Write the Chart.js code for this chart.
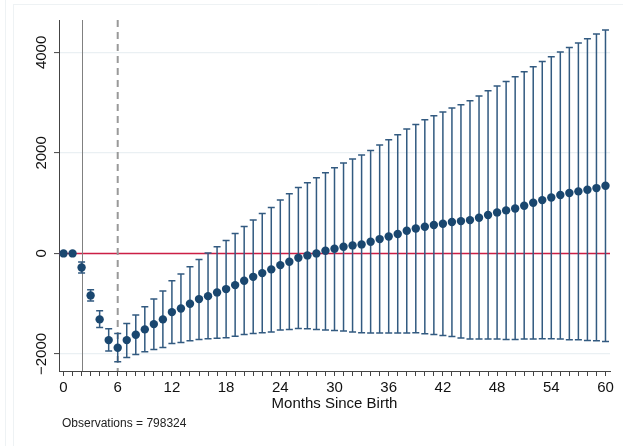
<!DOCTYPE html>
<html>
<head>
<meta charset="utf-8">
<script src="https://cdn.jsdelivr.net/npm/chart.js@4/dist/chart.umd.min.js"></script>
<style>
  html, body { margin: 0; padding: 0; background: #fff; }
</style>
</head>
<body>
<canvas id="c" width="623" height="446"></canvas>
<script>
// months since birth
const months = [0,1,2,3,4,5,6,7,8,9,10,11,12,13,14,15,16,17,18,19,20,
  21,22,23,24,25,26,27,28,29,30,31,32,33,34,35,36,37,38,39,40,
  41,42,43,44,45,46,47,48,49,50,51,52,53,54,55,56,57,58,59,60];
// point estimates
const est = [0,0,-280,-836,-1313,-1725,-1878,-1725,-1620,-1512,-1407,
  -1313,-1168,-1095,-1003,-909,-850,-776,-710,-631,-545,
  -466,-392,-318,-233,-167,-88,-40,0,53,93,
  133,159,179,232,285,338,385,451,497,531,
  564,590,624,643,663,710,763,816,856,895,
  949,1008,1061,1114,1161,1201,1234,1267,1300,1347];
// upper bound of CI
const hi = [0,0,-170,-724,-1142,-1500,-1592,-1393,-1228,-1063,-909,
  -750,-545,-412,-267,-119,6,131,259,398,537,
  663,796,915,1061,1186,1313,1405,1506,1605,1705,
  1798,1877,1957,2050,2156,2262,2361,2474,2567,2660,
  2739,2812,2892,2958,3038,3131,3237,3330,3423,3515,
  3615,3714,3821,3913,4006,4099,4185,4272,4365,4444];
// lower bound of CI
const lo = [0,0,-390,-949,-1473,-1944,-2157,-2070,-2010,-1958,-1910,
  -1871,-1791,-1771,-1739,-1711,-1699,-1686,-1680,-1646,-1612,
  -1592,-1580,-1566,-1526,-1512,-1493,-1499,-1512,-1526,-1532,
  -1545,-1565,-1579,-1585,-1585,-1585,-1585,-1585,-1579,-1599,
  -1612,-1632,-1652,-1685,-1705,-1705,-1705,-1705,-1711,-1711,
  -1705,-1705,-1698,-1698,-1705,-1718,-1718,-1731,-1738,-1751];

const xLabeled = [0,6,12,18,24,30,36,42,48,54,60];
const yTicks = [-2000,0,2000,4000];
const yTickLabels = ['\u22122000','0','2000','4000'];
const refLineY = 0;
const solidLineX = 2;
const dashedLineX = 6;
const noteText = 'Observations = 798324';

const FONT = 'Liberation Sans, Arial, Helvetica, sans-serif';

const decor = {
  id: 'decor',
  beforeDraw(chart){
    const ctx = chart.ctx;
    ctx.save();
    ctx.fillStyle = '#fff';
    ctx.fillRect(0,0,chart.width,chart.height);
    // faint page frame
    ctx.strokeStyle = '#eef2f4';
    ctx.lineWidth = 1;
    ctx.beginPath();
    ctx.moveTo(5.5,0); ctx.lineTo(5.5,chart.height);
    ctx.moveTo(13.5,4); ctx.lineTo(13.5,chart.height);
    ctx.moveTo(13.5,4.5); ctx.lineTo(chart.width,4.5);
    ctx.stroke();
    ctx.restore();
  },
  beforeDatasetsDraw(chart){
    const {ctx, chartArea:a, scales:{x, y}} = chart;
    ctx.save();
    // reference line at zero
    ctx.strokeStyle = '#cc1f45';
    ctx.lineWidth = 1.5;
    ctx.beginPath();
    const y0 = y.getPixelForValue(refLineY);
    ctx.moveTo(a.left, y0); ctx.lineTo(a.right, y0);
    ctx.stroke();
    // vertical lines
    ctx.strokeStyle = '#808080';
    ctx.lineWidth = 1;
    const xs = Math.round(x.getPixelForValue(solidLineX)) + 0.5;
    ctx.beginPath(); ctx.moveTo(xs, a.top); ctx.lineTo(xs, a.bottom); ctx.stroke();
    ctx.strokeStyle = '#999';
    ctx.lineWidth = 2;
    ctx.setLineDash([7,5]);
    const xd = x.getPixelForValue(dashedLineX);
    ctx.beginPath(); ctx.moveTo(xd, a.top); ctx.lineTo(xd, a.bottom); ctx.stroke();
    ctx.setLineDash([]);
    // capped CI spikes
    ctx.strokeStyle = '#325a80';
    ctx.lineWidth = 1.5;
    months.forEach((m, i) => {
      if (hi[i] === lo[i]) return;
      const px = x.getPixelForValue(m);
      const pt = y.getPixelForValue(hi[i]);
      const pb = y.getPixelForValue(lo[i]);
      ctx.beginPath();
      ctx.moveTo(px, pt); ctx.lineTo(px, pb);
      ctx.moveTo(px - 3.5, pt); ctx.lineTo(px + 3.5, pt);
      ctx.moveTo(px - 3.5, pb); ctx.lineTo(px + 3.5, pb);
      ctx.stroke();
    });
    ctx.restore();
  },
  afterDraw(chart){
    const ctx = chart.ctx;
    ctx.save();
    ctx.fillStyle = '#222';
    ctx.font = '12px ' + FONT;
    ctx.textBaseline = 'middle';
    ctx.fillText(noteText, 62, 424);
    ctx.restore();
  }
};

new Chart(document.getElementById('c'), {
  type: 'scatter',
  data: {
    datasets: [{
      data: months.map((m, i) => ({x: m, y: est[i]})),
      backgroundColor: '#1a476f',
      borderWidth: 0,
      pointRadius: 4.2,
      pointHoverRadius: 4.2
    }]
  },
  options: {
    responsive: false,
    animation: false,
    events: [],
    layout: {padding: {left: 0, right: 13, top: 20, bottom: 33}},
    plugins: {legend: {display: false}, tooltip: {enabled: false}},
    scales: {
      x: {
        type: 'linear', min: -0.5, max: 60.5,
        afterBuildTicks: ax => { ax.ticks = months.map(v => ({value: v})); },
        afterFit: ax => { ax.height = 42; },
        ticks: {
          autoSkip: false, maxRotation: 0, padding: 3,
          color: '#111', font: {family: FONT, size: 15},
          callback: v => xLabeled.includes(v) ? String(v) : ''
        },
        grid: {drawOnChartArea: false, drawTicks: true, tickLength: 5, tickColor: '#444', tickWidth: 1},
        border: {display: true, color: '#444', width: 1},
        title: {display: true, text: 'Months Since Birth', color: '#111',
          font: {family: FONT, size: 15}, padding: 0}
      },
      y: {
        type: 'linear', min: -2340, max: 4645,
        afterBuildTicks: ax => { ax.ticks = yTicks.map(v => ({value: v})); },
        afterFit: ax => { ax.width = 59; },
        ticks: {
          minRotation: 90, maxRotation: 90, crossAlign: 'center', padding: -9,
          color: '#111', font: {family: FONT, size: 15},
          callback: (v, i) => yTickLabels[i]
        },
        grid: {color: '#eaf0f3', lineWidth: 1.2, drawTicks: true, tickLength: 5, tickColor: '#444', tickWidth: 1},
        border: {display: true, color: '#444', width: 1}
      }
    }
  },
  plugins: [decor]
});
</script>
</body>
</html>
